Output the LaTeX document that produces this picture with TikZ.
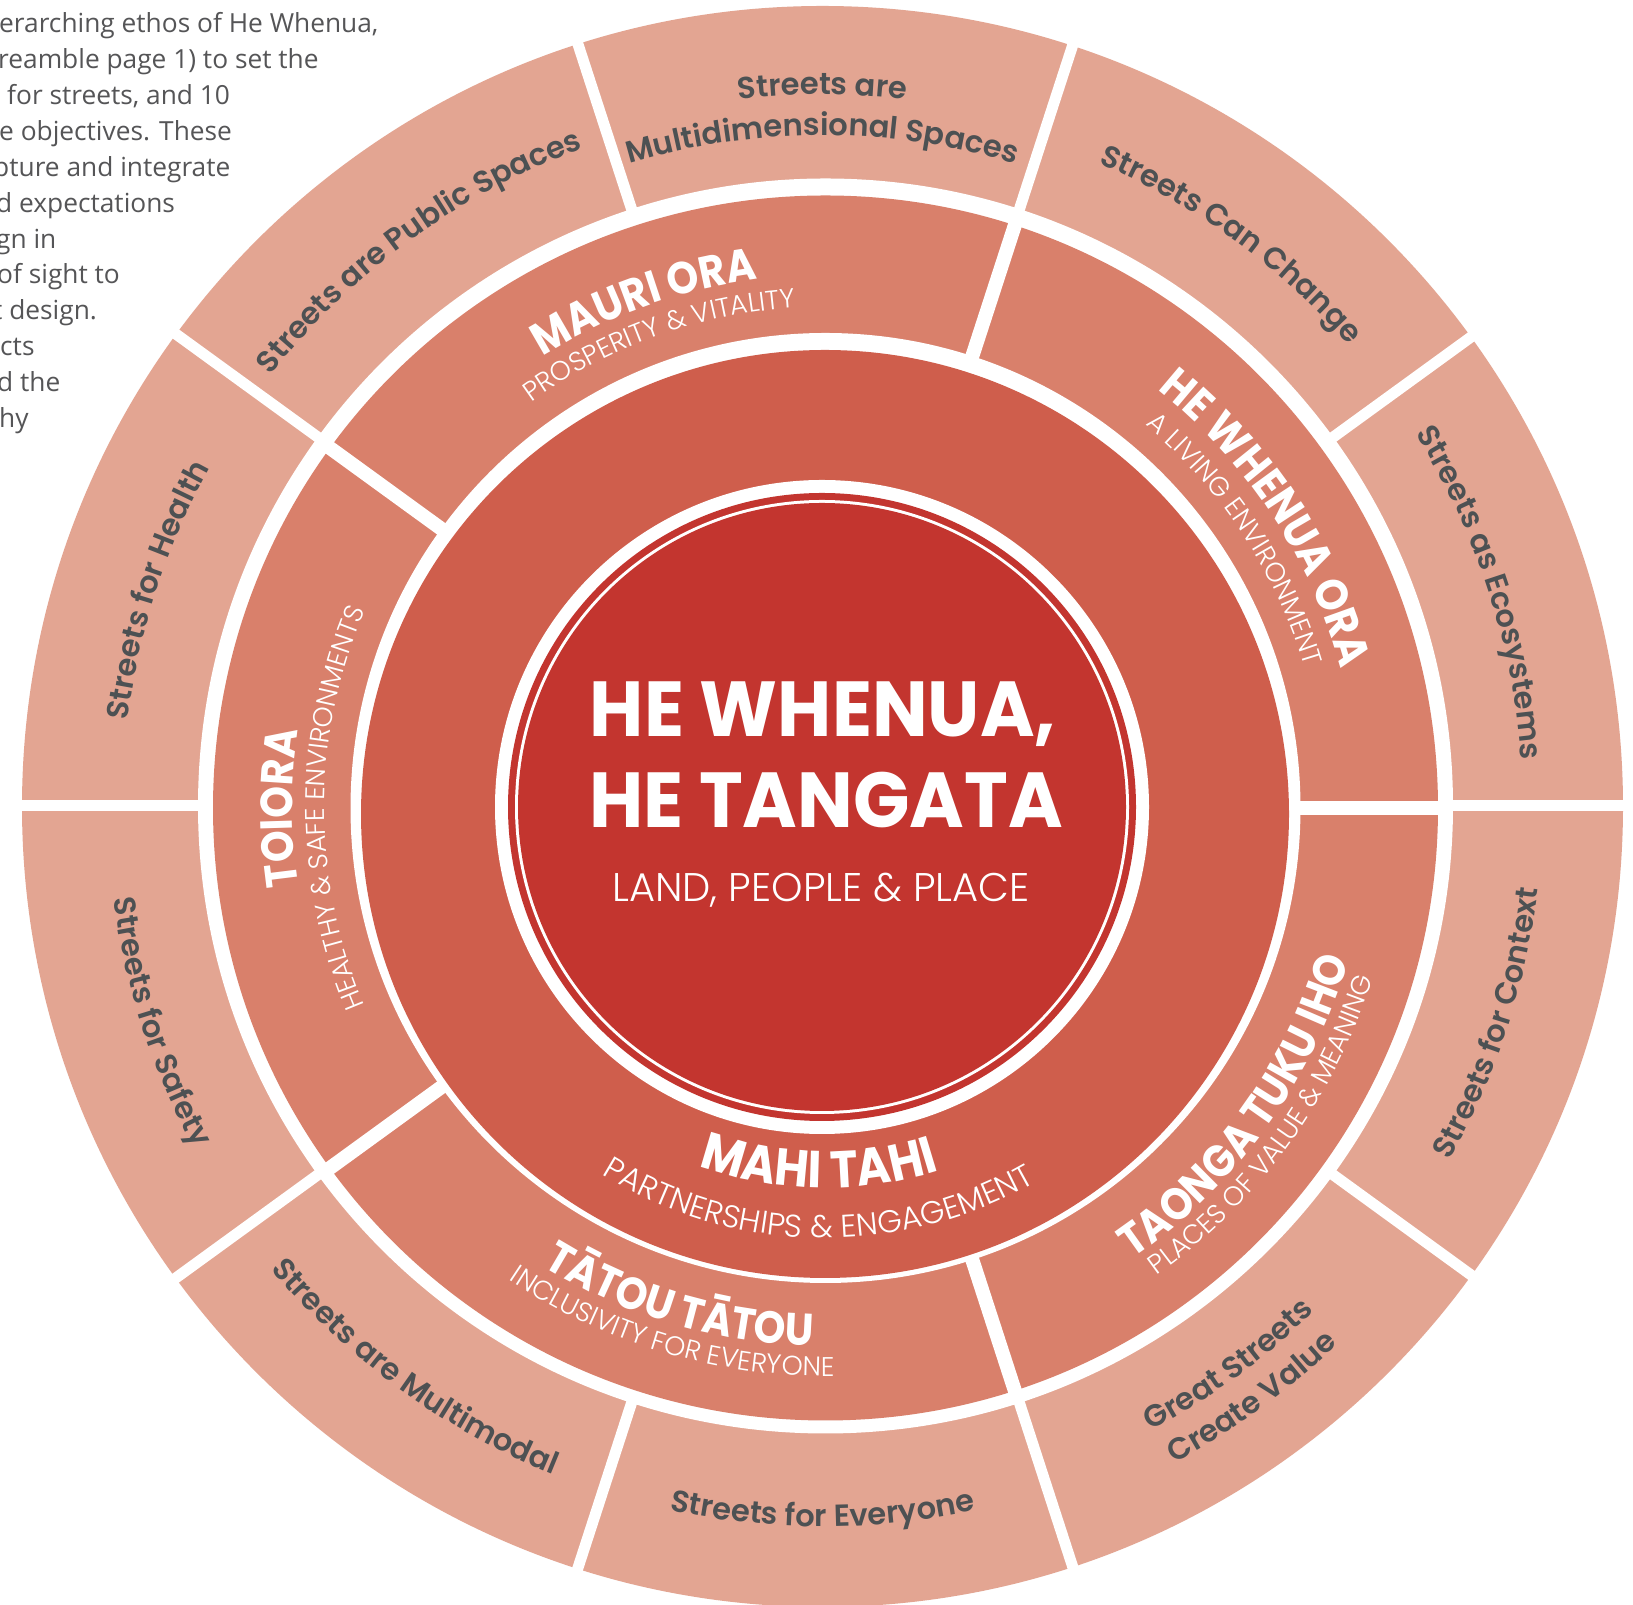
\documentclass[tikz,border=0pt]{standalone}
\usepackage{fontspec}
\usetikzlibrary{decorations.text}
\setmainfont{Open Sans}
\newfontfamily\geosemi{Poppins SemiBold}
\newfontfamily\geonarrow{Poppins}[FakeStretch=0.9]
\newfontfamily\geocore{Poppins}[FakeStretch=0.95]
\newfontfamily\geolight{Poppins Light}

\definecolor{ringouter}{HTML}{E3A592}
\definecolor{ringmid}{HTML}{D9806B}
\definecolor{ringinner}{HTML}{CF5E4C}
\definecolor{corered}{HTML}{C3352F}
\definecolor{labeldark}{HTML}{4D5153}
\definecolor{bodygray}{HTML}{555557}

% type styles for the wheel
\newcommand\lblfont{\geosemi\fontsize{30.5}{36}\selectfont\color{labeldark}}
\newcommand\pillarfont{\geonarrow\bfseries\fontsize{45}{50}\selectfont\color{white}}
\newcommand\pillarsub{\geolight\fontsize{27}{30}\selectfont\color{white}}
\newcommand\mahifont{\geonarrow\bfseries\fontsize{52}{56}\selectfont\color{white}}
\newcommand\mahisub{\geolight\fontsize{31.5}{34}\selectfont\color{white}}

% curved labels: #1 centre, #2 angle of the label's middle, #3 baseline radius, #4 text
% clockwise arc (upper half, letters facing outwards)
\newcommand\cwlabel[4]{\path[decorate,decoration={text along path,text align=center,text={#4}}]
  ([shift={(#2+45:#3)}]#1) arc[start angle=#2+45,end angle=#2-45,radius=#3];}
% counter-clockwise arc (lower half, letters facing inwards)
\newcommand\ccwlabel[4]{\path[decorate,decoration={text along path,text align=center,text={#4}}]
  ([shift={(#2-45:#3)}]#1) arc[start angle=#2-45,end angle=#2+45,radius=#3];}

\tikzset{
  sepouter/.style={draw=white,line width=11pt},
  sepmid/.style={draw=white,line width=14pt},
  coretitle/.style={font=\geocore\bfseries\fontsize{78}{80}\selectfont,text=white,inner sep=0pt},
  coresub/.style={font=\geolight\fontsize{40}{44}\selectfont,text=white,inner sep=0pt},
  bodyline/.style={font=\fontsize{26.3}{36}\selectfont,text=bodygray,inner sep=0pt,anchor=base west},
}

\begin{document}
\begin{tikzpicture}[x=1pt,y=1pt]
\useasboundingbox (0,0) rectangle (1633,1605);
\clip (0,0) rectangle (1633,1605);
\fill[white] (0,0) rectangle (1633,1605);

% centres of the rings
\coordinate (oc) at (822.5,798.5);
\coordinate (wc) at (825.5,799);
\coordinate (mc) at (825.5,797);
\coordinate (ic) at (825,791);
\coordinate (dc) at (822,798);

% outer ring of ten street objectives
\fill[ringouter] (oc) circle[radius=800.5pt];
\foreach \a in {0,36,...,324}
  \draw[sepouter] ([shift={(\a:600pt)}]wc) -- ([shift={(\a:815pt)}]wc);
\fill[white] (wc) circle[radius=627.5pt];

% middle ring of five pillars
\fill[ringmid] (mc) circle[radius=612.5pt];
\foreach \a in {0,72,...,288}
  \draw[sepmid] ([shift={(\a:455pt)}]mc) -- ([shift={(\a:622pt)}]mc);
\fill[white] (mc) circle[radius=475pt];

% inner band
\fill[ringinner] (ic) circle[radius=464pt];

% core disc
\fill[white] (dc) circle[radius=327pt];
\fill[corered] (dc) circle[radius=314pt];
\fill[white] (dc) circle[radius=307pt];
\fill[corered] (dc) circle[radius=304pt];

% core text
\node[coretitle,anchor=base] (coreA) at (823,868) {HE WHENUA,};
\node[coretitle,anchor=base] (coreB) at (826,777) {HE TANGATA};
\node[coresub,anchor=base] (coreC) at (821,703.5) {LAND, PEOPLE \& PLACE};

% inner band label
\ccwlabel{ic}{-91}{374pt}{|\mahifont|MAHI TAHI}
\ccwlabel{ic}{-91}{424pt}{|\mahisub|PARTNERSHIPS {\&} ENGAGEMENT}

% pillar labels
\cwlabel{mc}{109.7}{533pt}{|\pillarfont|MAURI ORA}
\cwlabel{mc}{109.7}{501pt}{|\pillarsub|PROSPERITY {\&} VITALITY}
\cwlabel{mc}{33.3}{534pt}{|\pillarfont|HE WHENUA ORA}
\cwlabel{mc}{33.3}{499pt}{|\pillarsub|A LIVING ENVIRONMENT}
\cwlabel{mc}{180}{533pt}{|\pillarfont|TOIORA}
\cwlabel{mc}{180}{501pt}{|\pillarsub|HEALTHY {\&} SAFE ENVIRONMENTS}
\ccwlabel{mc}{-106.5}{538pt}{|\pillarfont|TĀTOU TĀTOU}
\ccwlabel{mc}{-106.5}{568pt}{|\pillarsub|INCLUSIVITY FOR EVERYONE}
\ccwlabel{mc}{-36}{545pt}{|\pillarfont|TAONGA TUKU IHO}
\ccwlabel{mc}{-36}{573pt}{|\pillarsub|PLACES OF VALUE {\&} MEANING}

% street objective labels
\cwlabel{oc}{126}{700pt}{|\lblfont|Streets are Public Spaces}
\cwlabel{oc}{90}{712pt}{|\lblfont|Streets are}
\cwlabel{oc}{90}{671pt}{|\lblfont|Multidimensional Spaces}
\cwlabel{oc}{54}{700pt}{|\lblfont|Streets Can Change}
\cwlabel{oc}{18}{700pt}{|\lblfont|Streets as Ecosystems}
\ccwlabel{oc}{-18}{720pt}{|\lblfont|Streets for Context}
\ccwlabel{oc}{-54}{705pt}{|\lblfont|Great Streets}
\ccwlabel{oc}{-54}{745pt}{|\lblfont|Create Value}
\ccwlabel{oc}{-90}{720pt}{|\lblfont|Streets for Everyone}
\ccwlabel{oc}{-126}{720pt}{|\lblfont|Streets are Multimodal}
\ccwlabel{oc}{-162}{715pt}{|\lblfont|Streets for Safety}
\cwlabel{oc}{162}{700pt}{|\lblfont|Streets for Health}

% paragraph running in from the left margin
\node[bodyline] (p1) at (-1,1572.3) {erarching ethos of He Whenua,};
\node[bodyline] (p2) at (-2,1536.4) {reamble page 1) to set the};
\node[bodyline] (p3) at (7,1500.5) {for streets, and 10};
\node[bodyline] (p4) at (-1,1464.6) {e objectives. These};
\node[bodyline] (p5) at (-7,1428.7) {pture and integrate};
\node[bodyline] (p6) at (-4,1392.8) {d expectations};
\node[bodyline] (p7) at (-4,1356.9) {gn in};
\node[bodyline] (p8) at (-3,1321.0) {of sight to};
\node[bodyline] (p9) at (-7,1285.1) {t design.};
\node[bodyline] (p10) at (0,1249.2) {cts};
\node[bodyline] (p11) at (-3,1213.3) {d the};
\node[bodyline] (p12) at (-1,1177.4) {hy};
\end{tikzpicture}
\end{document}
